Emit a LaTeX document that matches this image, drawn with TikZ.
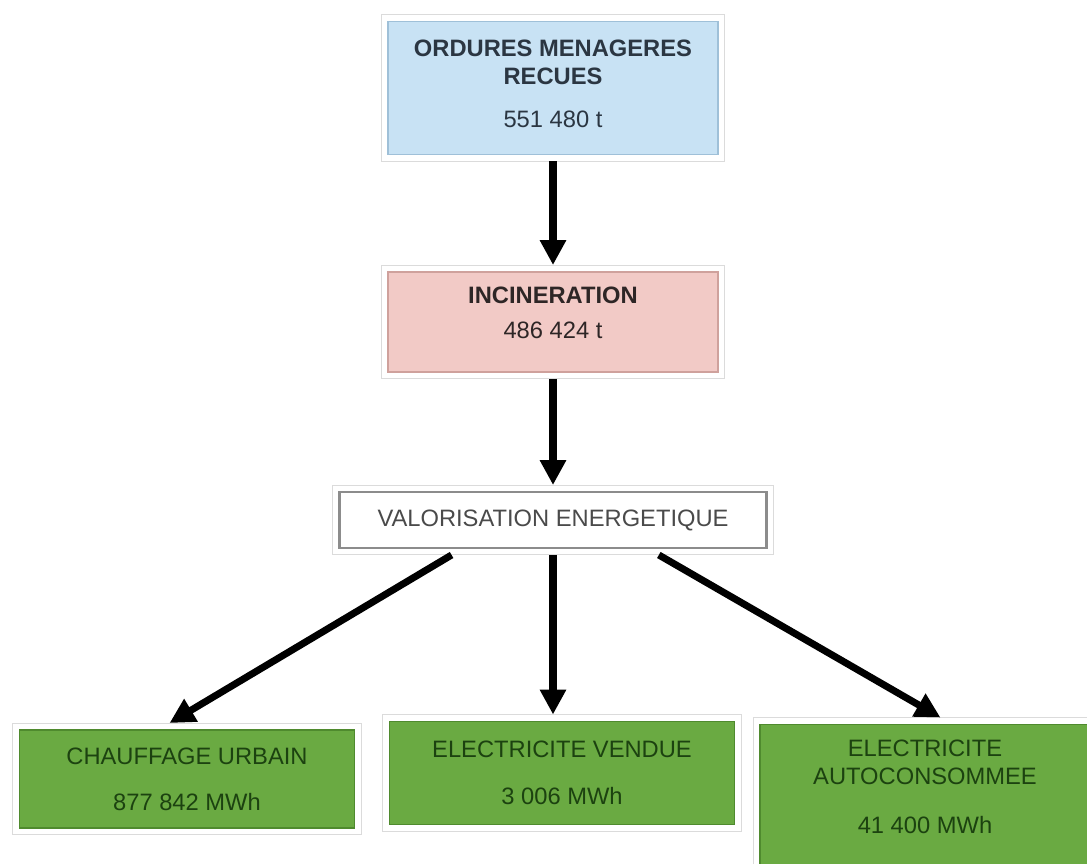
\documentclass[tikz,border=0pt]{standalone}
\usepackage{fontspec}
\setmainfont{Liberation Sans}
\usetikzlibrary{arrows.meta,shadows,calc}
\definecolor{bluefill}{HTML}{C8E2F4}
\definecolor{blueedge}{HTML}{9FC0D8}
\definecolor{bluetext}{HTML}{2B3642}
\definecolor{pinkfill}{HTML}{F2CAC6}
\definecolor{pinkedge}{HTML}{CFA19C}
\definecolor{pinktext}{HTML}{2E2626}
\definecolor{greenfill}{HTML}{6AAA42}
\definecolor{greenedge}{HTML}{4F8A2E}
\definecolor{greentext}{HTML}{1C4210}
\definecolor{graytext}{HTML}{4A4A4A}
\tikzset{
  box/.style={rectangle, align=center, inner sep=0pt, outer sep=0.14cm,
    font=\fontsize{13.5}{16}\selectfont,
    drop shadow={shadow xshift=2pt, shadow yshift=-3pt, opacity=0.25, fill=black},
    preaction={draw=black!14, line width=0.3cm},
    preaction={draw=white, line width=0.26cm}},
  bluebox/.style={box, fill=bluefill, draw=blueedge, line width=1pt, text=bluetext},
  pinkbox/.style={box, fill=pinkfill, draw=pinkedge, line width=1pt, text=pinktext},
  whitebox/.style={box, fill=white, draw=black!45, line width=1.2pt, text=graytext},
  greenbox/.style={box, fill=greenfill, draw=greenedge, line width=1pt, text=greentext},
  flow/.style={line width=4pt, -{Triangle[length=0.5cm,width=0.5cm]}, black}
}
\begin{document}
\begin{tikzpicture}[x=0.02cm,y=-0.02cm]
\clip (0,0) rectangle (1087,864);
\fill[white] (0,0) rectangle (1087,864);
\node[bluebox, minimum width=6.6cm, minimum height=2.66cm, text depth=5pt] (b1) at (553,88)
  {\textbf{ORDURES MENAGERES}\\\textbf{RECUES}\\[8pt]551 480 t};
\node[pinkbox, minimum width=6.6cm, minimum height=2.0cm, text depth=11pt] (b2) at (553,322)
  {\textbf{INCINERATION}\\[4pt]486 424 t};
\node[whitebox, minimum width=8.54cm, minimum height=1.12cm] (b3) at (553,520)
  {VALORISATION ENERGETIQUE};
\node[greenbox, minimum width=6.7cm, minimum height=1.96cm] (b4) at (187,779)
  {CHAUFFAGE URBAIN\\[10pt]877 842 MWh};
\node[greenbox, minimum width=6.9cm, minimum height=2.06cm] (b5) at (562,773)
  {ELECTRICITE VENDUE\\[11pt]3 006 MWh};
\node[greenbox, minimum width=6.6cm, minimum height=2.9cm, text depth=12pt] (b6) at (925,797)
  {ELECTRICITE\\AUTOCONSOMMEE\\[12pt]41 400 MWh};
\draw[flow] (b1) -- (b2);
\draw[flow] (b2) -- (b3);
\coordinate (s1) at ($(b3.south west)!0.27!(b3.south east)$);
\coordinate (s3) at ($(b3.south west)!0.74!(b3.south east)$);
\coordinate (e1) at ($(b4.north west)!0.45!(b4.north east)$);
\coordinate (e2) at (b3.south |- b5.north);
\coordinate (e3) at ($(b6.north west)!0.545!(b6.north east)$);
\draw[flow] (s1) -- (e1);
\draw[flow] (b3.south) -- (e2);
\draw[flow] (s3) -- (e3);
\end{tikzpicture}
\end{document}
